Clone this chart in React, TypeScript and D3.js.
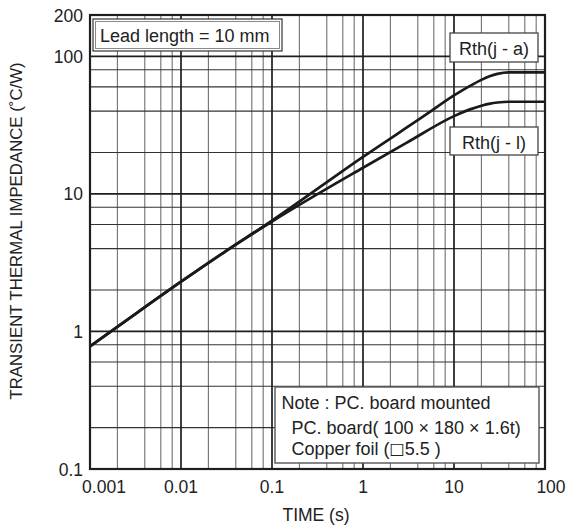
import React from "react";
import * as d3 from "d3";

// ---- data ----
const xTickValues = [0.001, 0.01, 0.1, 1, 10, 100];
const xTickLabels = ["0.001", "0.01", "0.1", "1", "10", "100"];
const yTickValues = [0.1, 1, 10, 100, 200];
const yTickLabels = ["0.1", "1", "10", "100", "200"];
const minorMultipliers = [2, 4, 6, 8];

// Rth(j - a)
const ja_t = [0.001, 0.003, 0.01, 0.03, 0.1, 1, 5, 10, 15, 20, 25, 30, 40, 100];
const ja_v = [0.78, 1.31, 2.3, 3.78, 6.4, 18.6, 38, 52, 61, 67.5, 72, 74.6, 76.5, 76.5];
// Rth(j - l)
const jl_t = [0.001, 0.003, 0.01, 0.03, 0.1, 1, 3, 10, 15, 20, 25, 30, 40, 100];
const jl_v = [0.78, 1.31, 2.3, 3.78, 6.3, 15.5, 23.5, 36.8, 41.2, 43.8, 45.4, 46.2, 46.8, 46.8];

const noteLines = [
  "Note : PC. board mounted",
  " PC. board( 100 × 180 × 1.6t)",
  " Copper foil (",
  "□",
  "5.5 )",
];

const FONT = "'Liberation Sans', Arial, Helvetica, sans-serif";

export default function App() {
  const W = 566;
  const H = 526;
  const left = 90, right = 545, top = 15, bottom = 469;

  const x = d3.scaleLog().domain([0.001, 100]).range([left, right]);
  const y = d3.scaleLog().domain([0.1, 200]).range([bottom, top]);

  const minorX: number[] = [];
  [0.001, 0.01, 0.1, 1, 10].forEach((d) => minorMultipliers.forEach((m) => minorX.push(d * m)));
  const minorY: number[] = [];
  [0.1, 1, 10].forEach((d) => minorMultipliers.forEach((m) => minorY.push(d * m)));
  const majorX = [0.01, 0.1, 1, 10];
  const majorY = [1, 10, 100];

  const line = d3
    .line<[number, number]>()
    .x((d) => x(d[0]))
    .y((d) => y(d[1]))
    .curve(d3.curveMonotoneX);

  const ja = line(ja_t.map((t, i) => [t, ja_v[i]] as [number, number])) || "";
  const jl = line(jl_t.map((t, i) => [t, jl_v[i]] as [number, number])) || "";

  const xLabelShift = (i: number) => (i === 0 ? 14 : i === xTickValues.length - 1 ? 6 : 0);

  return (
    <svg
      width={W}
      height={H}
      style={{ position: "absolute", left: 0, top: 0, background: "#fff" }}
      fontFamily={FONT}
    >
      <rect x={0} y={0} width={W} height={H} fill="#fff" />
      {minorX.map((v, i) => (
        <line key={"mx" + i} x1={x(v)} x2={x(v)} y1={top} y2={bottom} stroke="#707070" strokeWidth={1.1} />
      ))}
      {minorY.map((v, i) => (
        <line key={"my" + i} x1={left} x2={right} y1={y(v)} y2={y(v)} stroke="#333" strokeWidth={1.1} />
      ))}
      {majorX.map((v, i) => (
        <line key={"Mx" + i} x1={x(v)} x2={x(v)} y1={top} y2={bottom} stroke="#1e1e1e" strokeWidth={1.7} />
      ))}
      {majorY.map((v, i) => (
        <line key={"My" + i} x1={left} x2={right} y1={y(v)} y2={y(v)} stroke="#1e1e1e" strokeWidth={1.7} />
      ))}

      <path d={ja} fill="none" stroke="#1a1a1a" strokeWidth={2.7} />
      <path d={jl} fill="none" stroke="#1a1a1a" strokeWidth={2.7} />

      <rect x={left} y={top} width={right - left} height={bottom - top} fill="none" stroke="#1e1e1e" strokeWidth={2.2} />

      <rect x={93} y={19} width={189} height={32} fill="#fff" stroke="#333" strokeWidth={1.2} />
      <rect x={95.5} y={21.5} width={184} height={27} fill="none" stroke="#888" strokeWidth={1} />
      <text x={100} y={42} fontSize={18} fill="#222">Lead length = 10 mm</text>

      <rect x={450} y={33} width={88} height={29} fill="#fff" stroke="#444" strokeWidth={1.3} />
      <text x={494} y={55} fontSize={18} fill="#222" textAnchor="middle">Rth(j - a)</text>
      <rect x={450} y={127} width={88} height={28} fill="#fff" stroke="#444" strokeWidth={1.3} />
      <text x={494} y={148.5} fontSize={18} fill="#222" textAnchor="middle">Rth(j - l)</text>

      <rect x={275} y={387} width={264} height={76} fill="#fff" stroke="#555" strokeWidth={1.4} />
      <text x={281.5} y={409} fontSize={18} fill="#222">{noteLines[0]}</text>
      <text x={286.5} y={434} fontSize={18} fill="#222" xmlSpace="preserve">{noteLines[1]}</text>
      <text x={286.5} y={455} fontSize={18} fill="#222" xmlSpace="preserve">
        {noteLines[2]}
        <tspan fontSize={16} dy={-1} fontFamily="'DejaVu Sans', sans-serif">{noteLines[3]}</tspan>
        <tspan dy={1}>{noteLines[4]}</tspan>
      </text>

      {xTickValues.map((v, i) => (
        <text key={"xt" + i} x={x(v) + xLabelShift(i)} y={493} fontSize={17.5} fill="#222" textAnchor="middle">
          {xTickLabels[i]}
        </text>
      ))}
      {yTickValues.map((v, i) => (
        <text key={"yt" + i} x={83} y={y(v) + 6.5} fontSize={17.5} fill="#222" textAnchor="end">
          {yTickLabels[i]}
        </text>
      ))}

      <text x={316} y={521} fontSize={17.5} fill="#222" textAnchor="middle">TIME (s)</text>
      <text transform={`translate(22,231) rotate(-90)`} fontSize={16.8} fill="#222" textAnchor="middle">
        TRANSIENT THERMAL IMPEDANCE (˚C/W)
      </text>
    </svg>
  );
}
